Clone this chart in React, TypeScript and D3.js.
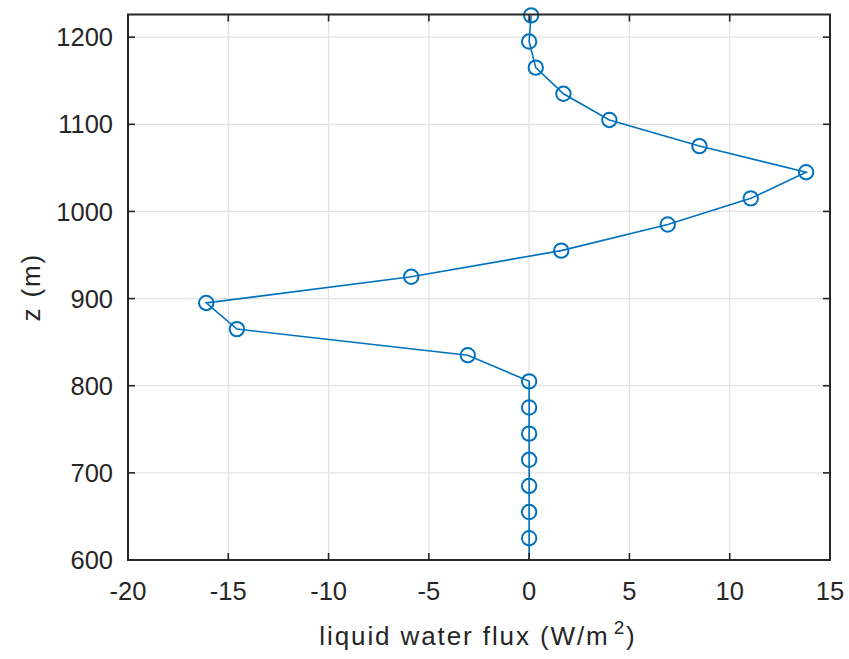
import React from "react";
import * as d3 from "d3";

const heights = [595, 625, 655, 685, 715, 745, 775, 805, 835, 865, 895, 925, 955, 985, 1015, 1045, 1075, 1105, 1135, 1165, 1195, 1225];
const fluxValues = [0, 0, 0, 0, 0, 0, 0, 0, -3.06, -14.57, -16.1, -5.88, 1.6, 6.91, 11.05, 13.81, 8.49, 4.0, 1.71, 0.33, 0.0, 0.1];
const xTicks = [-20, -15, -10, -5, 0, 5, 10, 15];
const yTicks = [600, 700, 800, 900, 1000, 1100, 1200];

const W = 849;
const H = 659;
const margin = { left: 128, right: 19, top: 14.5, bottom: 99 };
const COLOR = "#0072BD";
const AXIS = "#262626";
const FONT = "'Liberation Sans', Arial, Helvetica, sans-serif";

export default function App() {
  const x = d3.scaleLinear().domain([-20, 15]).range([margin.left, W - margin.right]);
  const y = d3.scaleLinear().domain([600, 1226]).range([H - margin.bottom, margin.top]);
  const [x0, x1] = x.range();
  const [y0, y1] = y.range();
  const pts = heights.map((h, i) => ({ z: h, v: fluxValues[i] }));
  const line = d3
    .line<{ z: number; v: number }>()
    .x((d) => x(d.v))
    .y((d) => y(d.z));
  const visible = pts.filter((d) => d.z >= 600 && d.z <= 1226);
  const tickLen = 7;

  return (
    <svg width={W} height={H} style={{ position: "absolute", left: 0, top: 0, background: "#fff" }}>
      <defs>
        <clipPath id="plotclip">
          <rect x={x0} y={y1} width={x1 - x0} height={y0 - y1} />
        </clipPath>
      </defs>
      <rect x={0} y={0} width={W} height={H} fill="#fff" />
      {/* grid */}
      <g stroke="#e3e3e3" strokeWidth={1.3}>
        {xTicks.map((t) => (
          <line key={"gx" + t} x1={x(t)} x2={x(t)} y1={y0} y2={y1} />
        ))}
        {yTicks.map((t) => (
          <line key={"gy" + t} x1={x0} x2={x1} y1={y(t)} y2={y(t)} />
        ))}
      </g>
      {/* data */}
      <g clipPath="url(#plotclip)">
        <path d={line(pts) || ""} fill="none" stroke={COLOR} strokeWidth={1.6} />
      </g>
      <g>
        {visible.map((d, i) => (
          <circle key={i} cx={x(d.v)} cy={y(d.z)} r={7.2} fill="none" stroke={COLOR} strokeWidth={2} />
        ))}
      </g>
      {/* ticks */}
      <g stroke={AXIS} strokeWidth={1.6}>
        {xTicks.map((t) => (
          <g key={"tx" + t}>
            <line x1={x(t)} x2={x(t)} y1={y0} y2={y0 - tickLen} />
            <line x1={x(t)} x2={x(t)} y1={y1} y2={y1 + tickLen} />
          </g>
        ))}
        {yTicks.map((t) => (
          <g key={"ty" + t}>
            <line x1={x0} x2={x0 + tickLen} y1={y(t)} y2={y(t)} />
            <line x1={x1} x2={x1 - tickLen} y1={y(t)} y2={y(t)} />
          </g>
        ))}
      </g>
      {/* box */}
      <rect x={x0} y={y1} width={x1 - x0} height={y0 - y1} fill="none" stroke={AXIS} strokeWidth={2} />
      {/* tick labels */}
      <g fontFamily={FONT} fontSize={25.5} fill={AXIS}>
        {xTicks.map((t) => (
          <text key={"lx" + t} x={x(t)} y={y0 + 40} textAnchor="middle">
            {t}
          </text>
        ))}
        {yTicks.map((t) => (
          <text key={"ly" + t} x={x0 - 15} y={y(t)} dy="0.36em" textAnchor="end">
            {t}
          </text>
        ))}
      </g>
      {/* axis labels */}
      <text x={(x0 + x1) / 2 - 1} y={y0 + 85} textAnchor="middle" fontFamily={FONT} fontSize={26} letterSpacing={1.9} fill={AXIS}>
        liquid water flux (W/m
        <tspan dx={4} dy={-11} fontSize={19}>2</tspan>
        <tspan dy={11}>)</tspan>
      </text>
      <text
        transform={`translate(40, ${(y0 + y1) / 2}) rotate(-90)`}
        textAnchor="middle"
        fontFamily={FONT}
        fontSize={26}
        letterSpacing={1.9}
        fill={AXIS}
      >
        z (m)
      </text>
    </svg>
  );
}
